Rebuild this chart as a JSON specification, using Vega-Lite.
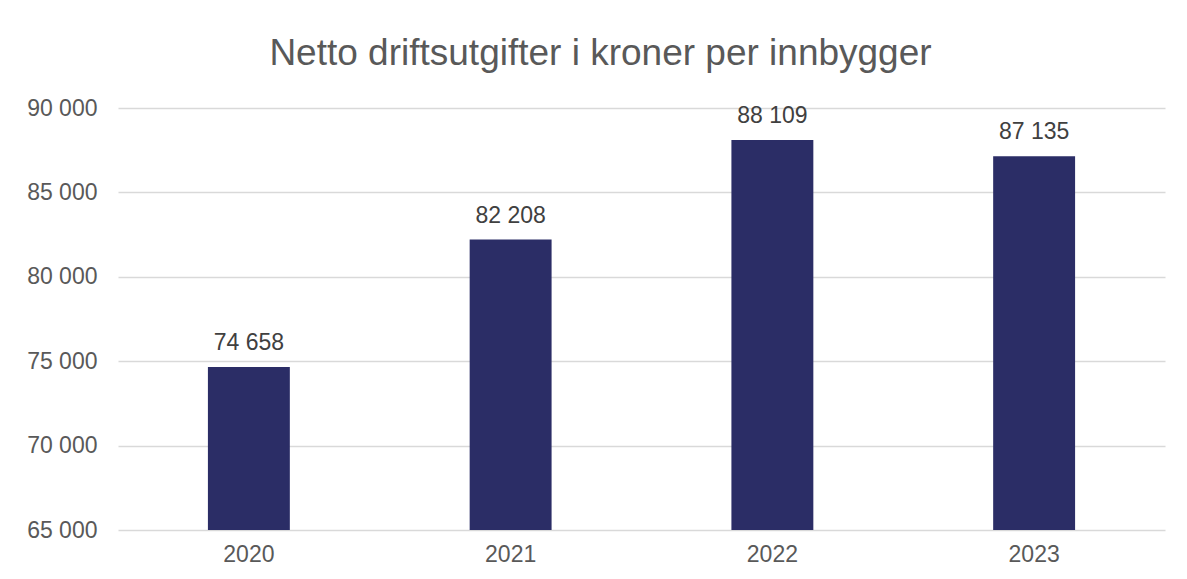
{
  "$schema": "https://vega.github.io/schema/vega-lite/v6.json",
  "autosize": {"type": "none"},
  "width": 1047,
  "height": 422,
  "padding": {"left": 118, "top": 108, "right": 22, "bottom": 49},
  "background": "white",
  "config": {
    "locale": {"number": {"decimal": ",", "thousands": " ", "grouping": [3], "currency": ["", " kr"]}},
    "view": {"stroke": null},
    "font": "Liberation Sans"
  },
  "title": {
    "text": "Netto driftsutgifter i kroner per innbygger",
    "fontSize": 37,
    "fontWeight": "normal",
    "color": "#595959",
    "font": "Liberation Sans",
    "anchor": "middle",
    "dx": -41,
    "offset": 24
  },
  "data": {"values": [
    {"year": "2020", "value": 74658},
    {"year": "2021", "value": 82208},
    {"year": "2022", "value": 88109},
    {"year": "2023", "value": 87135}
  ]},
  "encoding": {
    "x": {"field": "year", "type": "nominal", "title": null,
      "scale": {"paddingInner": 0.687, "paddingOuter": 0.3435},
      "axis": {"labelAngle": 0, "labelFontSize": 23, "labelColor": "#595959", "domain": false, "ticks": false, "labelPadding": 13, "grid": false}},
    "y": {"field": "value", "type": "quantitative", "title": null,
      "scale": {"domain": [65000, 90000], "zero": false, "nice": false},
      "axis": {"values": [65000, 70000, 75000, 80000, 85000, 90000], "format": ",d", "labelFontSize": 23, "labelColor": "#595959", "domain": false, "ticks": false, "labelPadding": 21, "gridColor": "#d9d9d9", "gridWidth": 1.5}}
  },
  "layer": [
    {"mark": {"type": "bar", "color": "#2B2D66"}, "encoding": {"y2": {"datum": 65000}}},
    {"mark": {"type": "text", "fontSize": 23, "color": "#404040", "baseline": "bottom", "dy": -12},
     "encoding": {"text": {"field": "value", "type": "quantitative", "format": ",d"}}}
  ]
}
